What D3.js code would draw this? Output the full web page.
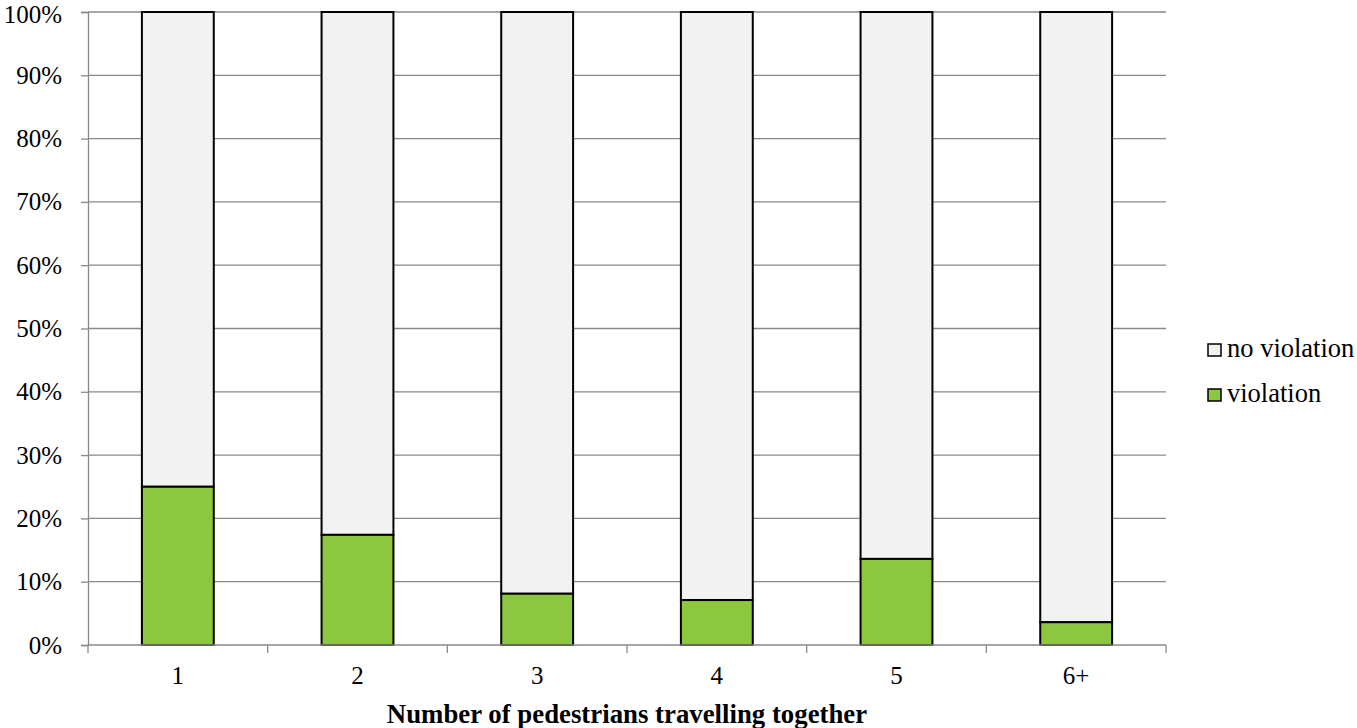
<!DOCTYPE html>
<html>
<head>
<meta charset="utf-8">
<script src="https://cdn.jsdelivr.net/npm/d3@7"></script>
<style>
  html, body { margin: 0; padding: 0; background: #fff; }
  svg { display: block; }
  svg text { font-family: "Liberation Serif", "Times New Roman", serif; fill: #000; }
</style>
</head>
<body>
<svg id="chart" width="1357" height="728"></svg>
<script>
// Share of pedestrians crossing with / without a violation, by group size
const categories = ["1", "2", "3", "4", "5", "6+"];
const violation = [0.25, 0.174, 0.081, 0.071, 0.136, 0.036];
const noViolation = violation.map(v => 1 - v);
const yTicks = [0, 0.1, 0.2, 0.3, 0.4, 0.5, 0.6, 0.7, 0.8, 0.9, 1.0];
const seriesNames = ["no violation", "violation"];
const seriesColors = { "no violation": "#f2f2f2", "violation": "#8dc63f" };

const FONT = "Liberation Serif, Times New Roman, serif";
const FS = 26.5;     // legend, title
const TICK_FS = 25;  // axis tick labels

const svg = d3.select("#chart");
const margin = { left: 88, right: 191, top: 12, bottom: 83 };
const W = 1357, H = 728;
const x0 = margin.left, x1 = W - margin.right;
const y0 = H - margin.bottom, y1 = margin.top;

const x = d3.scaleBand().domain(categories).range([x0, x1]).paddingInner(0.6).paddingOuter(0.3);
const xEdges = d3.scaleLinear().domain([0, categories.length]).range([x0, x1]);
const y = d3.scaleLinear().domain([0, 1]).range([y0, y1]);

const gridColor = "#898989";

// horizontal gridlines
svg.append("g").selectAll("line").data(yTicks.filter(t => t > 0)).join("line")
  .attr("x1", x0).attr("x2", x1)
  .attr("y1", d => y(d)).attr("y2", d => y(d))
  .attr("stroke", gridColor).attr("stroke-width", 1.3);

// y axis
const yAxis = svg.append("g").attr("transform", `translate(${x0},0)`)
  .call(d3.axisLeft(y).tickValues(yTicks).tickFormat(d3.format(".0%")).tickSize(7).tickPadding(19));
yAxis.attr("font-family", FONT).attr("font-size", TICK_FS);
yAxis.select(".domain").attr("stroke", gridColor).attr("stroke-width", 1.3);
yAxis.selectAll(".tick line").attr("stroke", gridColor).attr("stroke-width", 1.3);
yAxis.selectAll("text").attr("font-size", TICK_FS).attr("font-family", FONT).attr("fill", "#000")
  // keep the topmost label inside the canvas
  .attr("dy", d => d === 1 ? "0.42em" : "0.32em");

// stacked bars
const stack = categories.map((c, i) => ({ cat: c, v: violation[i], nv: noViolation[i] }));
const bars = svg.append("g");
bars.selectAll("rect.nv").data(stack).join("rect").attr("class", "nv")
  .attr("x", d => x(d.cat)).attr("width", x.bandwidth())
  .attr("y", d => y(d.v + d.nv)).attr("height", d => y(d.v) - y(d.v + d.nv))
  .attr("fill", seriesColors["no violation"]).attr("stroke", "#000").attr("stroke-width", 2);
bars.selectAll("rect.v").data(stack).join("rect").attr("class", "v")
  .attr("x", d => x(d.cat)).attr("width", x.bandwidth())
  .attr("y", d => y(d.v)).attr("height", d => y(0) - y(d.v))
  .attr("fill", seriesColors["violation"]).attr("stroke", "#000").attr("stroke-width", 2);

// x axis baseline with ticks at category boundaries
const xg = svg.append("g");
xg.append("line").attr("x1", x0).attr("x2", x1).attr("y1", y0).attr("y2", y0)
  .attr("stroke", gridColor).attr("stroke-width", 1.3);
xg.selectAll("line.tick").data(d3.range(categories.length + 1)).join("line").attr("class", "tick")
  .attr("x1", d => xEdges(d)).attr("x2", d => xEdges(d))
  .attr("y1", y0).attr("y2", y0 + 8)
  .attr("stroke", gridColor).attr("stroke-width", 1.3);
xg.selectAll("text").data(categories).join("text")
  .attr("x", d => x(d) + x.bandwidth() / 2).attr("y", y0 + 39)
  .attr("text-anchor", "middle").attr("font-family", FONT).attr("font-size", TICK_FS).text(d => d);

// axis title
svg.append("text").attr("x", (x0 + x1) / 2).attr("y", H - 5)
  .attr("text-anchor", "middle").attr("font-family", FONT).attr("font-size", 26.8).attr("font-weight", "bold")
  .text("Number of pedestrians travelling together");

// legend
const legend = svg.append("g");
const legendRows = legend.selectAll("g").data(seriesNames).join("g")
  .attr("transform", (d, i) => `translate(1208, ${350 + i * 45})`);
legendRows.append("rect").attr("x", 0).attr("y", -6).attr("width", 13).attr("height", 12)
  .attr("fill", d => seriesColors[d]).attr("stroke", "#000").attr("stroke-width", 1.5);
legendRows.append("text").attr("x", 19).attr("y", 7).attr("font-family", FONT).attr("font-size", FS).text(d => d);
</script>
</body>
</html>
